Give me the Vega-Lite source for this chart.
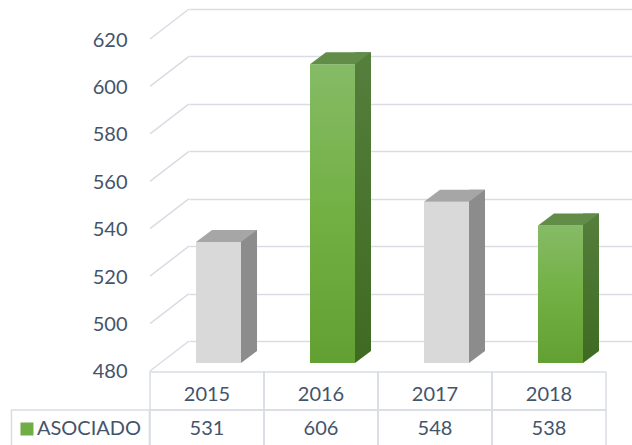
{
  "$schema": "https://vega.github.io/schema/vega-lite/v6.json",
  "width": 443,
  "height": 436,
  "autosize": "none",
  "padding": {"left": 189, "top": 9, "right": 0, "bottom": 0},
  "background": "white",
  "config": {"view": {"stroke": null}, "font": "Lato"},
  "datasets": {
    "asociado": [
      {"anio": 2015, "valor": 531},
      {"anio": 2016, "valor": 606},
      {"anio": 2017, "valor": 548},
      {"anio": 2018, "valor": 538}
    ],
    "ticks": [
      {"v": 480}, {"v": 500}, {"v": 520}, {"v": 540},
      {"v": 560}, {"v": 580}, {"v": 600}, {"v": 620}
    ],
    "serie": [{"nombre": "ASOCIADO"}]
  },
  "layer": [
    {
      "layer": [
        {
          "data": {"name": "ticks"},
          "mark": {"type": "rule", "color": "#D9DDE3", "strokeWidth": 1.5, "yOffset": 30},
          "encoding": {
            "x": {"datum": 2014.5, "type": "quantitative", "scale": {"domain": [2014.8421, 2018.7281], "nice": false, "zero": false}, "axis": null},
            "x2": {"value": 0},
            "y": {
              "field": "v", "type": "quantitative",
              "scale": {"domain": [436.14, 620], "nice": false, "zero": false},
              "axis": {
                "values": [480, 500, 520, 540, 560, 580, 600, 620],
                "grid": true, "gridColor": "#D9DDE3", "gridWidth": 1.5,
                "domain": false, "ticks": false, "title": null,
                "labelPadding": 62, "labelOffset": 31,
                "labelFont": "Lato", "labelFontSize": 20, "labelColor": "#44546A"
              }
            },
            "y2": {"field": "v"}
          }
        },
        {
          "data": {"name": "asociado"},
          "mark": {"type": "rect", "xOffset": 34, "x2Offset": 50, "yOffset": 10, "y2Offset": 22},
          "encoding": {
            "x": {"field": "anio", "type": "quantitative", "scale": {"domain": [2014.8421, 2018.7281], "nice": false, "zero": false}, "axis": null},
            "x2": {"field": "anio"},
            "y": {"field": "valor", "type": "quantitative", "scale": {"domain": [436.14, 620], "nice": false, "zero": false}},
            "y2": {"datum": 480},
            "fill": {
              "condition": {
                "test": "datum.anio === 2016 || datum.anio === 2018",
                "value": {"gradient": "linear", "x1": 0, "y1": 0, "x2": 0, "y2": 1,
                  "stops": [{"offset": 0, "color": "#557F3C"}, {"offset": 1, "color": "#3E6A22"}]}
              },
              "value": "#8C8C8C"
            }
          }
        },
        {
          "data": {"name": "asociado"},
          "mark": {"type": "rect", "xOffset": -11, "x2Offset": 34, "yOffset": 22, "y2Offset": 22},
          "encoding": {
            "x": {"field": "anio", "type": "quantitative", "scale": {"domain": [2014.8421, 2018.7281], "nice": false, "zero": false}, "axis": null},
            "x2": {"field": "anio"},
            "y": {"field": "valor", "type": "quantitative", "scale": {"domain": [436.14, 620], "nice": false, "zero": false}},
            "y2": {"datum": 480},
            "fill": {
              "condition": {
                "test": "datum.anio === 2016 || datum.anio === 2018",
                "value": {"gradient": "linear", "x1": 0, "y1": 0, "x2": 0, "y2": 1,
                  "stops": [{"offset": 0, "color": "#86BB66"}, {"offset": 0.5, "color": "#72B043"}, {"offset": 1, "color": "#62A033"}]}
              },
              "value": "#D9D9D9"
            }
          }
        },
        {
          "data": {"name": "asociado"},
          "mark": {"type": "point", "shape": "M -1 0.75 L 1 0.75 L 1 -0.75 Z", "size": 256, "filled": true, "opacity": 1, "strokeWidth": 0, "color": "white", "xOffset": 42, "yOffset": 16},
          "encoding": {
            "x": {"field": "anio", "type": "quantitative", "scale": {"domain": [2014.8421, 2018.7281], "nice": false, "zero": false}, "axis": null},
            "y": {"datum": 480, "type": "quantitative", "scale": {"domain": [436.14, 620], "nice": false, "zero": false}}
          }
        },
        {
          "data": {"name": "asociado"},
          "mark": {"type": "point", "shape": "M -1 0.1967 L 0.4754 0.1967 L 1 -0.1967 L -0.4754 -0.1967 Z", "size": 3721, "filled": true, "opacity": 1, "strokeWidth": 0, "xOffset": 19.5, "yOffset": 16},
          "encoding": {
            "x": {"field": "anio", "type": "quantitative", "scale": {"domain": [2014.8421, 2018.7281], "nice": false, "zero": false}, "axis": null},
            "y": {"field": "valor", "type": "quantitative", "scale": {"domain": [436.14, 620], "nice": false, "zero": false}},
            "fill": {
              "condition": {"test": "datum.anio === 2016 || datum.anio === 2018", "value": "#628D48"},
              "value": "#A6A6A6"
            }
          }
        }
      ]
    },
    {
      "layer": [
        {
          "data": {"name": "asociado"},
          "mark": {"type": "rect", "fill": "transparent", "stroke": "#D9DDE3", "strokeWidth": 1.5, "xOffset": -57, "x2Offset": 57},
          "encoding": {
            "x": {"field": "anio", "type": "quantitative", "scale": {"domain": [2014.8421, 2018.7281], "nice": false, "zero": false}, "axis": null},
            "x2": {"field": "anio"},
            "y": {"datum": 0.5, "type": "quantitative", "scale": {"domain": [-0.421, 11.053], "nice": false, "zero": false}, "axis": null},
            "y2": {"datum": 1.5}
          }
        },
        {
          "data": {"name": "asociado"},
          "mark": {"type": "rect", "fill": "transparent", "stroke": "#D9DDE3", "strokeWidth": 1.5, "xOffset": -57, "x2Offset": 57},
          "encoding": {
            "x": {"field": "anio", "type": "quantitative", "scale": {"domain": [2014.8421, 2018.7281], "nice": false, "zero": false}, "axis": null},
            "x2": {"field": "anio"},
            "y": {"datum": -0.5, "type": "quantitative", "scale": {"domain": [-0.421, 11.053], "nice": false, "zero": false}, "axis": null},
            "y2": {"datum": 0.5}
          }
        },
        {
          "data": {"name": "serie"},
          "mark": {"type": "rect", "fill": "transparent", "stroke": "#D9DDE3", "strokeWidth": 1.5, "xOffset": -69, "x2Offset": 69},
          "encoding": {
            "x": {"datum": 2013.89, "type": "quantitative", "scale": {"domain": [2014.8421, 2018.7281], "nice": false, "zero": false}, "axis": null},
            "x2": {"datum": 2013.89},
            "y": {"datum": -0.5, "type": "quantitative", "scale": {"domain": [-0.421, 11.053], "nice": false, "zero": false}, "axis": null},
            "y2": {"datum": 0.5}
          }
        },
        {
          "data": {"name": "asociado"},
          "mark": {"type": "text", "font": "Lato", "fontSize": 20, "color": "#44546A", "dy": 4},
          "encoding": {
            "x": {"field": "anio", "type": "quantitative", "scale": {"domain": [2014.8421, 2018.7281], "nice": false, "zero": false}, "axis": null},
            "y": {"datum": 1, "type": "quantitative", "scale": {"domain": [-0.421, 11.053], "nice": false, "zero": false}, "axis": null},
            "text": {"field": "anio", "type": "nominal"}
          }
        },
        {
          "data": {"name": "asociado"},
          "mark": {"type": "text", "font": "Lato", "fontSize": 20, "color": "#44546A"},
          "encoding": {
            "x": {"field": "anio", "type": "quantitative", "scale": {"domain": [2014.8421, 2018.7281], "nice": false, "zero": false}, "axis": null},
            "y": {"datum": 0, "type": "quantitative", "scale": {"domain": [-0.421, 11.053], "nice": false, "zero": false}, "axis": null},
            "text": {"field": "valor", "type": "nominal"}
          }
        },
        {
          "data": {"name": "serie"},
          "mark": {"type": "point", "shape": "square", "size": 169, "filled": true, "opacity": 1, "color": "#70AD47", "xOffset": -53.5},
          "encoding": {
            "x": {"datum": 2013.89, "type": "quantitative", "scale": {"domain": [2014.8421, 2018.7281], "nice": false, "zero": false}, "axis": null},
            "y": {"datum": 0, "type": "quantitative", "scale": {"domain": [-0.421, 11.053], "nice": false, "zero": false}, "axis": null}
          }
        },
        {
          "data": {"name": "serie"},
          "mark": {"type": "text", "font": "Lato", "fontSize": 20, "color": "#44546A", "align": "left", "xOffset": -43.5},
          "encoding": {
            "x": {"datum": 2013.89, "type": "quantitative", "scale": {"domain": [2014.8421, 2018.7281], "nice": false, "zero": false}, "axis": null},
            "y": {"datum": 0, "type": "quantitative", "scale": {"domain": [-0.421, 11.053], "nice": false, "zero": false}, "axis": null},
            "text": {"field": "nombre", "type": "nominal"}
          }
        }
      ]
    }
  ],
  "resolve": {"scale": {"y": "independent"}}
}
